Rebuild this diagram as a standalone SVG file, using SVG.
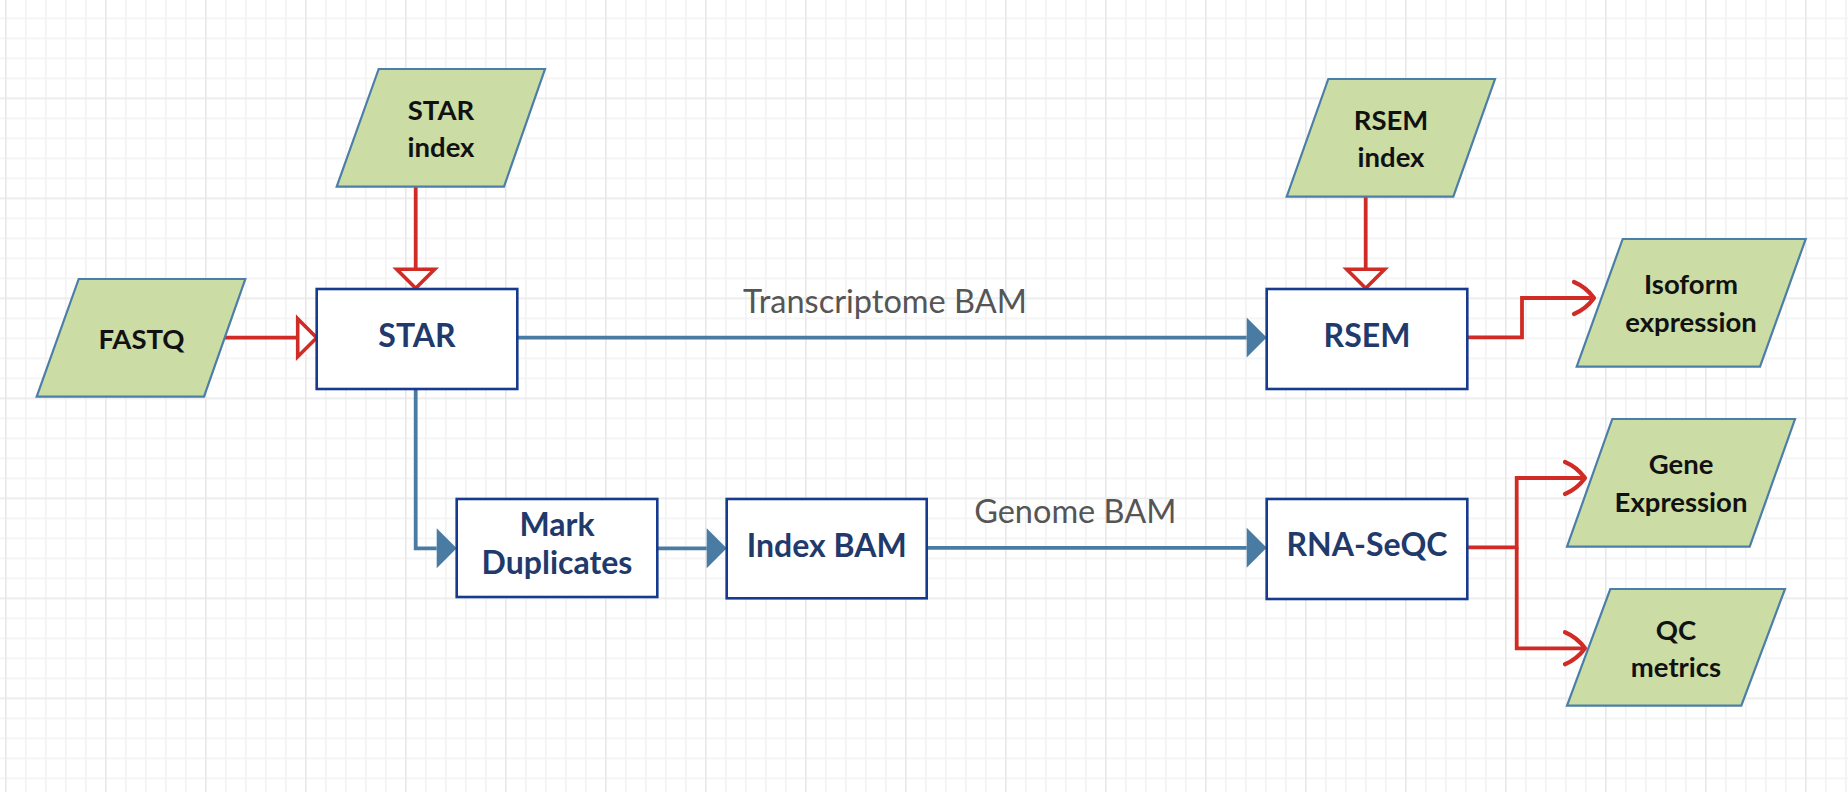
<svg xmlns="http://www.w3.org/2000/svg" width="1848" height="792" viewBox="0 0 1848 792">
<style>
.data{fill:#cbdca5;stroke:#4b7fa8;stroke-width:2.2}
.proc{fill:#ffffff;stroke:#163a8e;stroke-width:2.6}
.dt{font-family:Lato,"Liberation Sans",sans-serif;font-weight:700;font-size:27.5px;fill:#111111;text-anchor:middle}
.pt{font-family:Lato,"Liberation Sans",sans-serif;font-weight:700;font-size:32px;fill:#1f3a6b;text-anchor:middle}
.lbl{font-family:Lato,"Liberation Sans",sans-serif;font-weight:400;font-size:32.5px;fill:#555555;text-anchor:middle}
.blue{fill:none;stroke:#4a7ca3;stroke-width:3.8}
.red{fill:none;stroke:#d02b25;stroke-width:3.8}
</style>
<defs>
<pattern id="grid" patternUnits="userSpaceOnUse" x="5" y="-2.5" width="100" height="100">
<rect x="0" y="0" width="100" height="100" fill="#ffffff"/>
<g fill="#f2f2f2">
<rect x="20" y="0" width="1.6" height="100"/><rect x="40" y="0" width="1.6" height="100"/><rect x="60" y="0" width="1.6" height="100"/><rect x="80" y="0" width="1.6" height="100"/>
<rect x="0" y="20" width="100" height="1.6"/><rect x="0" y="40" width="100" height="1.6"/><rect x="0" y="60" width="100" height="1.6"/><rect x="0" y="80" width="100" height="1.6"/>
</g>
<g fill="#e8e8e8">
<rect x="0" y="0" width="1.6" height="100"/><rect x="0" y="0" width="100" height="1.6"/>
</g>
</pattern>
<marker id="hollow" markerUnits="userSpaceOnUse" viewBox="-3 -23 26 46" refX="0" refY="0" markerWidth="26" markerHeight="46" orient="auto" overflow="visible">
<path d="M0,-19 L19,0 L0,19 Z" fill="#ffffff" stroke="#d02b25" stroke-width="3.6" stroke-linejoin="miter"/>
</marker>
<marker id="solid" markerUnits="userSpaceOnUse" viewBox="0 -21 20 42" refX="0" refY="0" markerWidth="20" markerHeight="42" orient="auto" overflow="visible">
<path d="M0,-20 L20,0 L0,20 Z" fill="#4a7ca3"/>
</marker>
<marker id="open" markerUnits="userSpaceOnUse" viewBox="-24 -20 26 40" refX="0" refY="0" markerWidth="26" markerHeight="40" orient="auto" overflow="visible">
<path d="M-20,-16 Q-8,-11 0,0 Q-8,11 -20,16" fill="none" stroke="#d02b25" stroke-width="4.2" stroke-linecap="round" stroke-linejoin="round"/>
</marker>
</defs>
<rect x="0" y="0" width="1848" height="792" fill="url(#grid)"/>

<g id="connectors">
<path class="red" d="M415.7,187 V269.3" marker-end="url(#hollow)"/>
<path class="red" d="M225,337.7 H297.7" marker-end="url(#hollow)"/>
<path class="red" d="M1365.7,196.7 V269.3" marker-end="url(#hollow)"/>
<path class="blue" d="M517,337.6 H1246.7" marker-end="url(#solid)"/>
<path class="blue" d="M415.7,389 V548.3 H436.7" marker-end="url(#solid)"/>
<path class="blue" d="M657.3,548.3 H706.7" marker-end="url(#solid)"/>
<path class="blue" d="M926.7,547.8 H1246.7" marker-end="url(#solid)"/>
<path class="red" d="M1467,337.4 H1522 V298 H1594" marker-end="url(#open)"/>
<path class="red" d="M1467,547.4 H1516.7 V478 H1585" marker-end="url(#open)"/>
<path class="red" d="M1516.7,547.4 V648.3 H1585" marker-end="url(#open)"/>
<text class="lbl" x="885" y="312.7">Transcriptome BAM</text>
<text class="lbl" x="1075.3" y="522.7">Genome BAM</text>
</g>

<g id="star-index">
<polygon class="data" points="378.7,69 545,69 504,186.7 336.7,186.7"/>
<text class="dt" x="441" y="120">STAR</text>
<text class="dt" x="441" y="157">index</text>
</g>
<g id="fastq">
<polygon class="data" points="78.7,279 245.3,279 204,396.7 36.7,396.7"/>
<text class="dt" x="141.5" y="349.3">FASTQ</text>
</g>
<g id="star">
<rect class="proc" x="316.7" y="289" width="200.6" height="100"/>
<text class="pt" x="417" y="346.7">STAR</text>
</g>
<g id="rsem-index">
<polygon class="data" points="1328.3,79 1495,79 1453.3,196.7 1286.7,196.7"/>
<text class="dt" x="1391" y="130">RSEM</text>
<text class="dt" x="1391" y="167">index</text>
</g>
<g id="rsem">
<rect class="proc" x="1266.7" y="289" width="200.6" height="100"/>
<text class="pt" x="1367" y="346.7">RSEM</text>
</g>
<g id="isoform-expression">
<polygon class="data" points="1622.7,239 1805.7,239 1760,366.7 1576.7,366.7"/>
<text class="dt" x="1691" y="294">Isoform</text>
<text class="dt" x="1691" y="331.7">expression</text>
</g>
<g id="mark-duplicates">
<rect class="proc" x="456.7" y="499" width="200.6" height="98"/>
<text class="pt" x="557" y="536">Mark</text>
<text class="pt" x="557" y="574">Duplicates</text>
</g>
<g id="index-bam">
<rect class="proc" x="726.7" y="499" width="200" height="99.3"/>
<text class="pt" x="826.7" y="556.7">Index BAM</text>
</g>
<g id="rna-seqc">
<rect class="proc" x="1266.7" y="499" width="200.6" height="100"/>
<text class="pt" x="1367" y="556">RNA-SeQC</text>
</g>
<g id="gene-expression">
<polygon class="data" points="1612.3,419 1795,419 1749.7,546.7 1567,546.7"/>
<text class="dt" x="1681" y="474">Gene</text>
<text class="dt" x="1681" y="511.7">Expression</text>
</g>
<g id="qc-metrics">
<polygon class="data" points="1610.3,589 1785,589 1741.3,705.7 1567,705.7"/>
<text class="dt" x="1676" y="640">QC</text>
<text class="dt" x="1676" y="677.3">metrics</text>
</g>
</svg>
